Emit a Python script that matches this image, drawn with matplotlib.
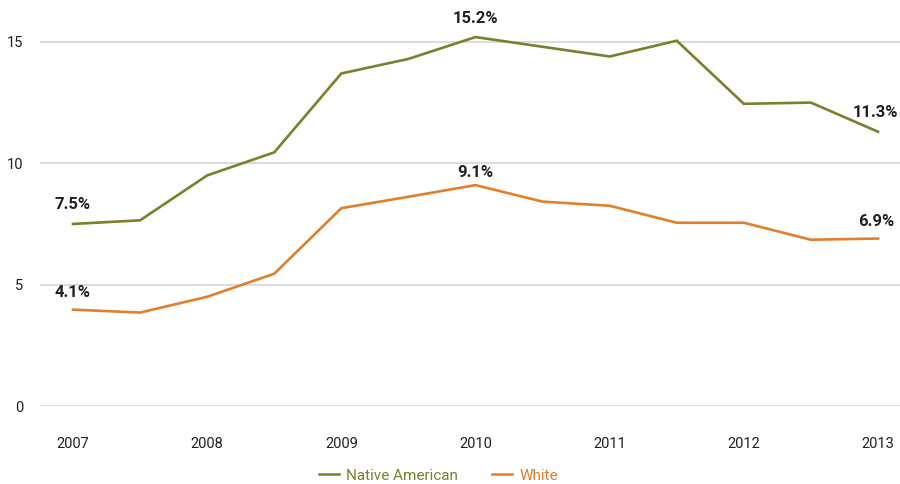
import matplotlib
matplotlib.use('Agg')
import numpy as np
from matplotlib import pyplot as plt
from matplotlib.lines import Line2D

plt.rcParams['font.family'] = ['Roboto', 'DejaVu Sans']

# half-year points 2007 .. 2013
years = [2007, 2007.5, 2008, 2008.5, 2009, 2009.5, 2010, 2010.5, 2011, 2011.5, 2012, 2012.5, 2013]
native = [7.5, 7.65, 9.5, 10.45, 13.7, 14.3, 15.2, 14.8, 14.4, 15.05, 12.45, 12.5, 11.3]
white = [3.97, 3.85, 4.5, 5.45, 8.15, 8.62, 9.1, 8.42, 8.25, 7.55, 7.55, 6.85, 6.9]
xticks = [2007, 2008, 2009, 2010, 2011, 2012, 2013]
yticks = [0, 5, 10, 15]

green = '#7b7f2e'
orange = '#e07f2c'
txt = '#231f20'

fig = plt.figure(figsize=(9, 4.84), dpi=100)
ax = fig.add_axes([40/900, 78/484, 860/900, 400/484])

ax.plot(years, native, color=green, lw=1.9, solid_joinstyle='miter')
ax.plot(years, white, color=orange, lw=1.9, solid_joinstyle='miter')

ax.set_xlim(2006.754, 2013.164)
ax.set_ylim(0, 16.48)
ax.set_xticks(xticks)
ax.set_yticks(yticks)
ax.set_yticklabels([str(v) for v in yticks])
ax.tick_params(length=0, labelsize=10.5, colors=txt)
ax.tick_params(axis='x', pad=22)
ax.tick_params(axis='y', pad=12)
ax.grid(axis='y', color='#d9d9d9', lw=1.3)
ax.set_axisbelow(True)
for s in ax.spines.values():
    s.set_visible(False)

def lab(x, y, s, ha='center'):
    ax.text(x, y, s, ha=ha, va='center', fontsize=12, fontweight='bold', color=txt)

lab(years[0], native[0] + 0.8, '7.5%')
lab(years[6], native[6] + 0.75, '15.2%')
lab(2013.15, native[-1] + 0.8, '11.3%', ha='right')
lab(years[6], white[6] + 0.5, '9.1%')
lab(2012.99, white[-1] + 0.7, '6.9%')
lab(years[0], white[0] + 0.7, '4.1%')

handles = [Line2D([], [], color=green, lw=1.8), Line2D([], [], color=orange, lw=1.8)]
leg = fig.legend(handles, ['Native American', 'White'], loc='center', bbox_to_anchor=(0.487, 0.017),
                 ncol=2, frameon=False, fontsize=11, handlelength=1.3, handletextpad=0.5, columnspacing=2.2)
for t, c in zip(leg.get_texts(), [green, orange]):
    t.set_color(c)

fig.savefig('out.png', dpi=100)
